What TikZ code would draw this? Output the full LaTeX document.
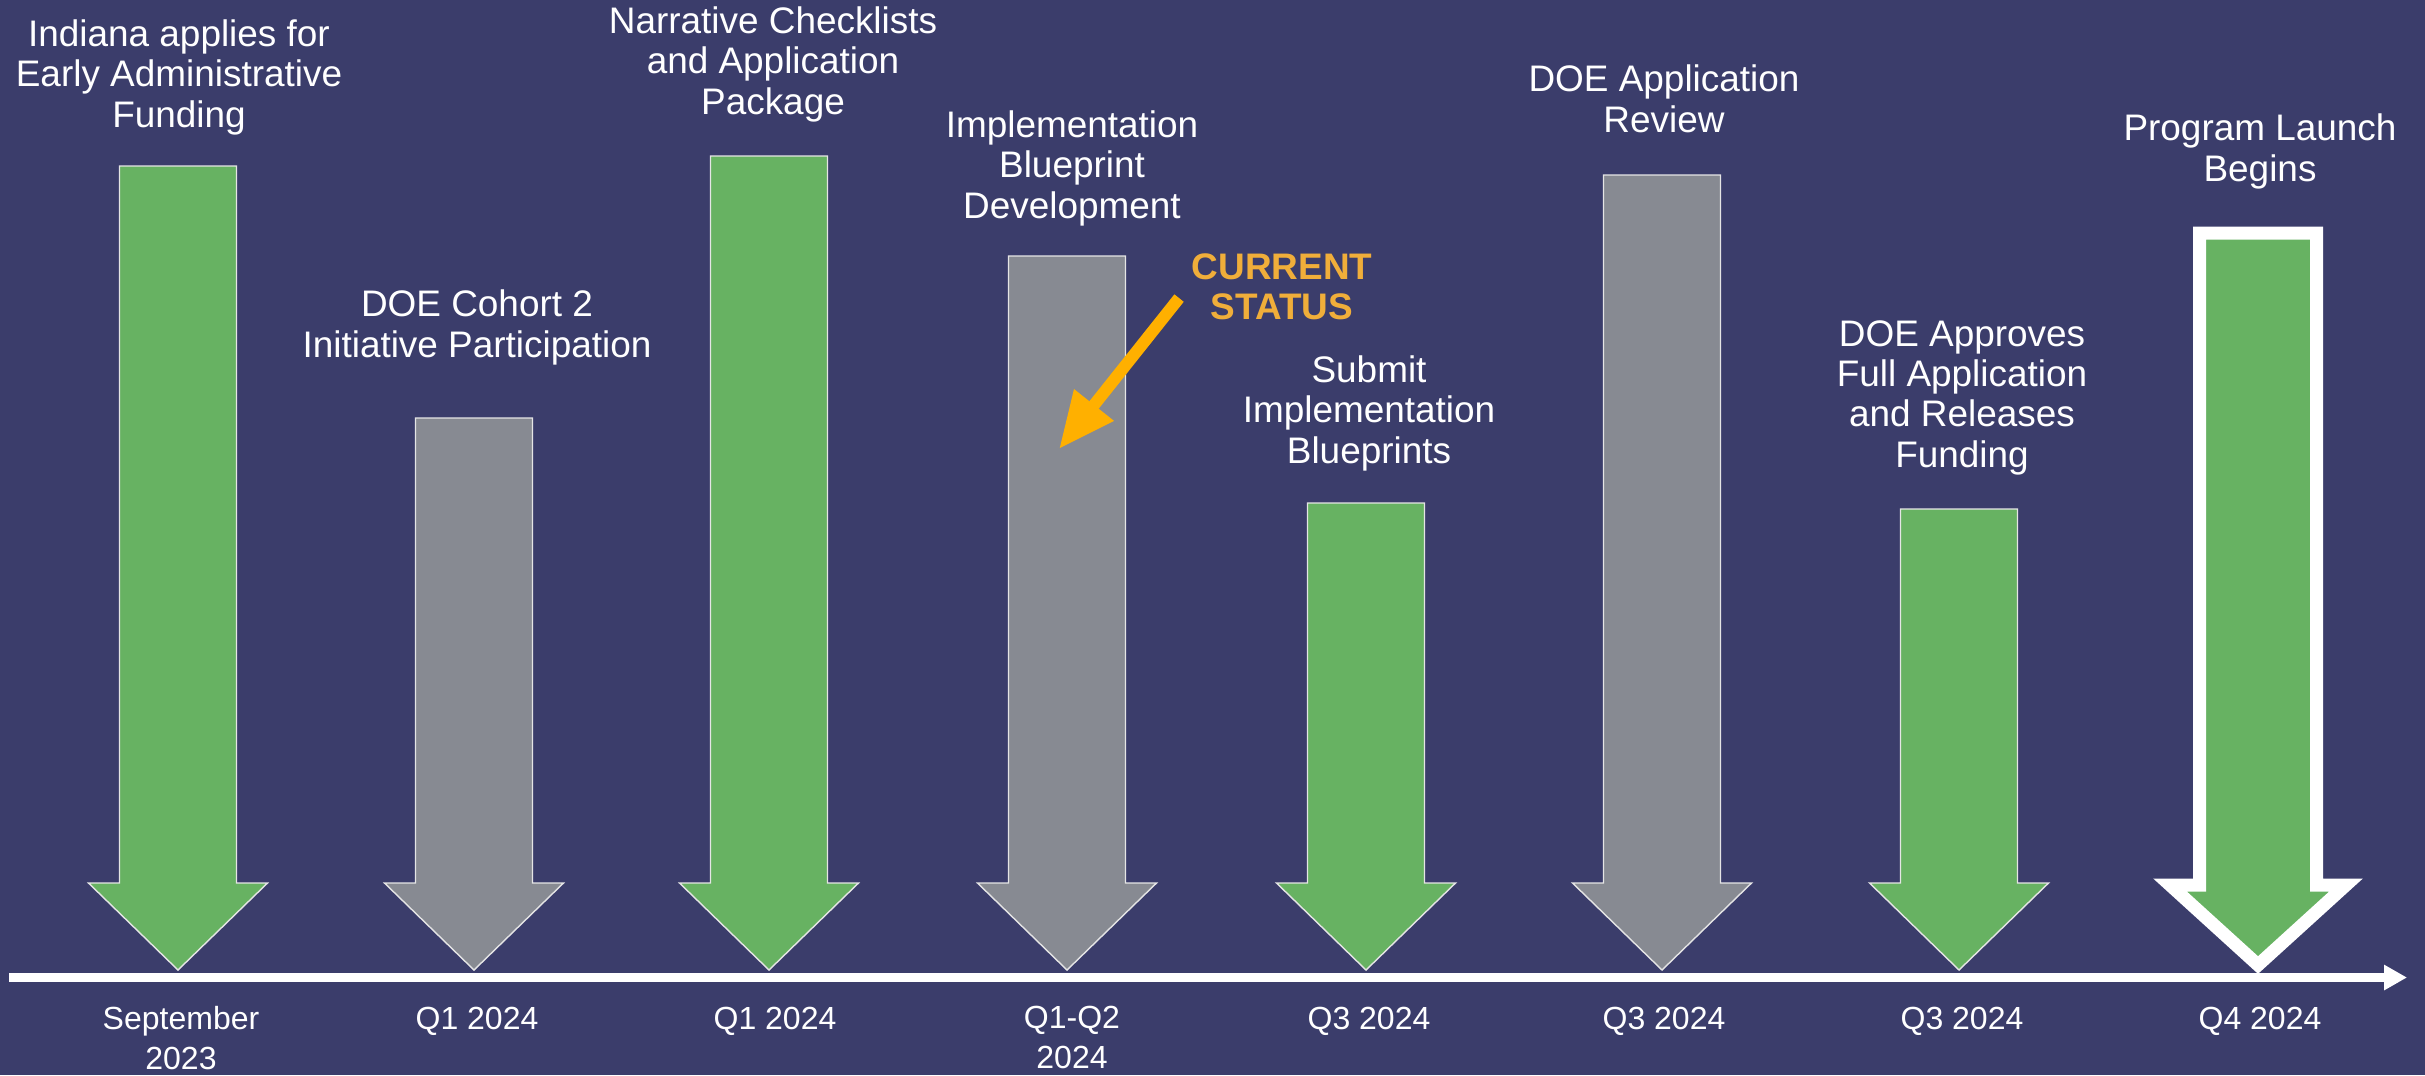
\documentclass[tikz,border=0pt]{standalone}
\usepackage{fontspec}
\setmainfont{Liberation Sans}
\usetikzlibrary{arrows.meta}

\definecolor{slate}{HTML}{3B3D6B}
\definecolor{donegreen}{HTML}{67B262}
\definecolor{pendinggray}{HTML}{878A92}
\definecolor{pointer}{HTML}{FFB000}
\definecolor{statustext}{HTML}{F0AE3A}

\tikzset{
  done/.style={fill=donegreen, draw=white!80!gray, line width=0.4pt},
  pending/.style={fill=pendinggray, draw=white!80!gray, line width=0.4pt},
  task label/.style={text=white, align=center, anchor=base, inner sep=0pt,
    font=\fontsize{10.5}{11.4}\selectfont},
  date label/.style={text=white, align=center, anchor=base, inner sep=0pt,
    font=\fontsize{9.1}{11.1}\selectfont},
  timeline/.style={draw=white, line width=2.4pt, -{Triangle[length=6.5pt, width=6.8pt]}},
}

% big down arrow: centre x, top of shaft, style
\newcommand{\milestone}[3]{%
  \draw[#3] (#1-58.5,#2) -- (#1+58.5,#2) -- (#1+58.5,883) -- (#1+89.5,883)
    -- (#1,970) -- (#1-89.5,883) -- (#1-58.5,883) -- cycle;}

\begin{document}
\begin{tikzpicture}[x=0.01cm, y=-0.01cm]
  \fill[slate] (0,0) rectangle (2425,1075);
  \useasboundingbox (0,0) rectangle (2425,1075);

  \milestone{178}{166}{done}
  \milestone{474}{418}{pending}
  \milestone{769}{156}{done}
  \milestone{1067}{256}{pending}
  \milestone{1366}{503}{done}
  \milestone{1662}{175}{pending}
  \milestone{1959}{509}{done}
  % launch gets the heavy white frame
  \draw[done, draw=white, line width=3.7pt, miter limit=10]
    (2258-58.5,233) -- (2258+58.5,233) -- (2258+58.5,885) -- (2258+88,885)
    -- (2258,965) -- (2258-88,885) -- (2258-58.5,885) -- cycle;

  \coordinate (axis-start) at (9,977.5);
  \coordinate (axis-end) at (2407,977.5);
  \draw[timeline] (axis-start) -- (axis-end);

  % labels sit on the baseline of their last line
  \node[task label] (admin) at (179,127) {Indiana applies for\\Early Administrative\\Funding};
  \node[task label] (cohort) at (477,357) {DOE Cohort 2\\Initiative Participation};
  \node[task label] (checklists) at (773,114) {Narrative Checklists\\and Application\\Package};
  \node[task label] (blueprint) at (1072,218) {Implementation\\Blueprint\\Development};
  \node[task label] (submit) at (1369,463) {Submit\\Implementation\\Blueprints};
  \node[task label] (review) at (1664,132) {DOE Application\\Review};
  \node[task label] (approval) at (1962,467) {DOE Approves\\Full Application\\and Releases\\Funding};
  \node[task label] (launch) at (2260,181) {Program Launch\\Begins};

  \node[date label] (sep23) at (181,1069) {September\\2023};
  \node[date label] (q1a) at (477,1029) {Q1 2024};
  \node[date label] (q1b) at (775,1029) {Q1 2024};
  \node[date label] (q1q2) at (1072,1068) {Q1-Q2\\2024};
  \node[date label] (q3a) at (1369,1029) {Q3 2024};
  \node[date label] (q3b) at (1664,1029) {Q3 2024};
  \node[date label] (q3c) at (1962,1029) {Q3 2024};
  \node[date label] (q4) at (2260,1029) {Q4 2024};

  \node[task label, text=statustext, font=\fontsize{10.5}{11.2}\bfseries] (status) at (1282,319) {CURRENT\\STATUS};
  \coordinate (status-tip) at (1059,449);
  \draw[pointer, line width=3.4pt, -{Triangle[length=16pt, width=13.5pt]}]
    ([shift={(-12,-22)}]status.south west) -- (status-tip);
\end{tikzpicture}
\end{document}
